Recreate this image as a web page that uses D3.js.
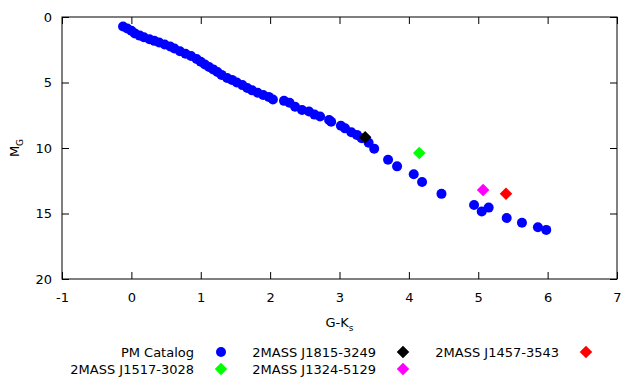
<!DOCTYPE html>
<html>
<head>
<meta charset="utf-8">
<script src="https://cdn.jsdelivr.net/npm/d3@7"></script>
<style>
  body { margin: 0; background: #fff; }
  text { font-family: "DejaVu Sans", sans-serif; font-size: 13px; fill: #000; }
</style>
</head>
<body>
<div id="chart"></div>
<script>
// PM catalog sequence (G-Ks, M_G)
var pmColor = [-0.12, -0.06, 0.0, 0.05, 0.12, 0.18, 0.26, 0.33, 0.4, 0.48, 0.56, 0.62, 0.7, 0.78, 0.86, 0.94,
  1.0, 1.06, 1.12, 1.18, 1.24, 1.3, 1.38, 1.45, 1.52, 1.6, 1.67, 1.74, 1.82, 1.9, 1.98, 2.04,
  2.2, 2.28, 2.36, 2.46, 2.56, 2.64, 2.72, 2.85, 2.88, 3.02, 3.08, 3.17, 3.25, 3.32, 3.42, 3.5,
  3.7, 3.83, 4.07, 4.19, 4.47, 4.94, 5.05, 5.15, 5.41, 5.63, 5.86, 5.98]
var pmMag = [0.72, 0.88, 1.05, 1.25, 1.42, 1.55, 1.7, 1.82, 1.95, 2.1, 2.25, 2.4, 2.62, 2.8, 2.98, 3.2,
  3.42, 3.62, 3.82, 4.0, 4.2, 4.42, 4.65, 4.8, 5.0, 5.2, 5.42, 5.6, 5.78, 5.95, 6.1, 6.3,
  6.4, 6.55, 6.85, 7.1, 7.22, 7.45, 7.6, 7.86, 8.0, 8.3, 8.5, 8.8, 9.0, 9.25, 9.6, 10.05,
  10.9, 11.4, 12.0, 12.6, 13.5, 14.35, 14.85, 14.55, 15.35, 15.7, 16.05, 16.25]

// individual objects
var objNames = ["2MASS J1815-3249", "2MASS J1517-3028", "2MASS J1324-5129", "2MASS J1457-3543"]
var objColor = [3.37, 4.15, 5.07, 5.40]
var objMag = [9.18, 10.38, 13.2, 13.5]
var objFill = ["#000000", "#00ff00", "#ff00ff", "#ff0000"]

var xTicks = [-1, 0, 1, 2, 3, 4, 5, 6, 7]
var yTicks = [0, 5, 10, 15, 20]

var W = 640, H = 384
var margin = { top: 17, left: 62, right: 23, bottom: 105 }
var width = W - margin.left - margin.right,
    height = H - margin.top - margin.bottom

var svg = d3.select("#chart").append("svg")
    .attr("width", W).attr("height", H)

var g = svg.append("g")
    .attr("transform", "translate(" + margin.left + "," + margin.top + ")")

var x = d3.scaleLinear().domain([-1, 7]).range([0, width])
var y = d3.scaleLinear().domain([0, 20]).range([0, height])

// inward ticks on all four sides (plain hyphen for negatives)
g.append("g").attr("transform", "translate(0," + height + ")")
    .call(d3.axisBottom(x).tickValues(xTicks).tickFormat(String).tickSizeInner(-7).tickSizeOuter(0).tickPadding(14))
g.append("g")
    .call(d3.axisTop(x).tickValues(xTicks).tickSizeInner(-7).tickSizeOuter(0).tickFormat(""))
g.append("g")
    .call(d3.axisLeft(y).tickValues(yTicks).tickFormat(String).tickSizeInner(-7).tickSizeOuter(0).tickPadding(10))
g.append("g").attr("transform", "translate(" + width + ",0)")
    .call(d3.axisRight(y).tickValues(yTicks).tickSizeInner(-7).tickSizeOuter(0).tickFormat(""))

g.selectAll(".domain").remove()
g.selectAll(".tick line").attr("stroke", "#000")
g.selectAll(".tick text").style("font-family", "DejaVu Sans, sans-serif").style("font-size", "13px").attr("fill", "#000")

g.append("rect").attr("width", width).attr("height", height)
    .attr("fill", "none").attr("stroke", "#000").attr("stroke-width", 1)

// PM catalog dots
g.selectAll(".pm")
    .data(pmColor.map(function (c, i) { return [c, pmMag[i]] }))
    .enter().append("circle")
    .attr("class", "pm")
    .attr("cx", function (d) { return x(d[0]) })
    .attr("cy", function (d) { return y(d[1]) })
    .attr("r", 5)
    .attr("fill", "#0000ff")

var diamond = d3.symbol().type(d3.symbolDiamond2).size(100)

g.selectAll(".obj")
    .data(objNames)
    .enter().append("path")
    .attr("class", "obj")
    .attr("d", diamond)
    .attr("transform", function (d, i) { return "translate(" + x(objColor[i]) + "," + y(objMag[i]) + ")" })
    .attr("fill", function (d, i) { return objFill[i] })

// axis titles
var xt = svg.append("text").attr("x", margin.left + width / 2).attr("y", 327).attr("text-anchor", "middle")
xt.append("tspan").text("G-K")
xt.append("tspan").attr("dy", 4).style("font-size", "9px").text("s")

var yt = svg.append("text").attr("transform", "translate(19," + (margin.top + height / 2) + ") rotate(-90)")
    .attr("text-anchor", "middle")
yt.append("tspan").text("M")
yt.append("tspan").attr("dy", 4).style("font-size", "9px").text("G")

// legend
var legNames = ["PM Catalog"].concat(objNames)
var legFill = ["#0000ff"].concat(objFill)
var legPos = [[194, 352], [376, 352], [194, 369], [376, 369], [559, 352]]

var leg = svg.selectAll(".leg")
    .data(legNames)
    .enter().append("g")
    .attr("class", "leg")
    .attr("transform", function (d, i) { return "translate(" + legPos[i][0] + "," + legPos[i][1] + ")" })

leg.append("text").attr("text-anchor", "end").attr("dy", "0.35em").text(function (d) { return d })
leg.each(function (d, i) {
    var s = d3.select(this)
    if (i == 0) s.append("circle").attr("cx", 27).attr("r", 5).attr("fill", legFill[i])
    else s.append("path").attr("d", diamond).attr("transform", "translate(27,0)").attr("fill", legFill[i])
})
</script>
</body>
</html>
